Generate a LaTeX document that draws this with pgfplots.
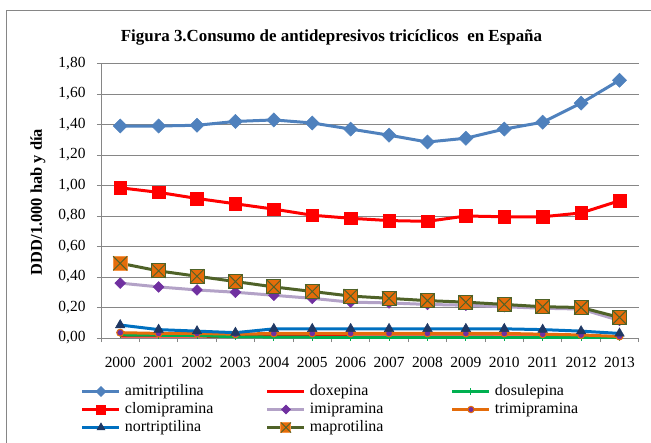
\documentclass[border=0pt]{standalone}
\usepackage{pgfplots}
\pgfplotsset{compat=1.18}
\usepackage{fontspec}
\setmainfont{Liberation Serif}

\definecolor{amiBlue}{HTML}{4F81BD}
\definecolor{doxRed}{HTML}{FF0000}
\definecolor{dosGreen}{HTML}{00B050}
\definecolor{impLine}{HTML}{B3A2C7}
\definecolor{impMark}{HTML}{7030A0}
\definecolor{triOrange}{HTML}{E46C0A}
\definecolor{norBlue}{HTML}{0070C0}
\definecolor{norMark}{HTML}{1F3864}
\definecolor{mapOlive}{HTML}{4F6228}
\definecolor{mapFill}{HTML}{E46C0A}
\definecolor{mapEdge}{HTML}{F79646}
\definecolor{frameGray}{HTML}{868686}

% square with a cross, as in the maprotilina series
\pgfdeclareplotmark{sqx}{%
  \pgfpathrectangle{\pgfpoint{-\pgfplotmarksize}{-\pgfplotmarksize}}{\pgfpoint{2\pgfplotmarksize}{2\pgfplotmarksize}}%
  \pgfusepathqfillstroke
  \pgfsetstrokecolor{mapOlive}%
  \pgfpathmoveto{\pgfpoint{-\pgfplotmarksize}{-\pgfplotmarksize}}%
  \pgfpathlineto{\pgfpoint{\pgfplotmarksize}{\pgfplotmarksize}}%
  \pgfpathmoveto{\pgfpoint{-\pgfplotmarksize}{\pgfplotmarksize}}%
  \pgfpathlineto{\pgfpoint{\pgfplotmarksize}{-\pgfplotmarksize}}%
  \pgfusepathqstroke
}

\pgfplotsset{
  ami/.style={amiBlue, line width=3bp, mark=square*, mark options={rotate=45, solid, line width=0.5bp}},
  dox/.style={doxRed, line width=3bp, no marks},
  dos/.style={dosGreen, line width=3bp, mark=+, mark options={line width=1bp}},
  clo/.style={doxRed, line width=3bp, mark=square*, mark options={line width=0.5bp}},
  imi/.style={impLine, line width=3bp, mark=square*, mark options={rotate=45, fill=impMark, draw=impMark, line width=0.5bp}},
  tri/.style={triOrange, line width=3bp, mark=*, mark options={fill=impMark, draw=triOrange, line width=1bp}},
  nor/.style={norBlue, line width=3bp, mark=triangle*, mark options={fill=norMark, draw=norMark, line width=0.5bp}},
  map/.style={mapOlive, line width=3bp, mark=sqx, mark options={fill=mapFill, draw=mapEdge, line width=1bp}},
}

\begin{document}
\begin{tikzpicture}
\useasboundingbox (-101bp,-105bp) rectangle (550bp,338bp);
\draw[frameGray, line width=0.9bp] (-95bp,-110bp) -- (-95bp,328bp) -- (560bp,328bp);
\node[font=\bfseries\fontsize{17}{19}\selectfont, anchor=base] at (230.5bp,296bp) {Figura 3.Consumo de antidepresivos tricíclicos\ \ en España};
\node[font=\bfseries\fontsize{16.5}{18}\selectfont, rotate=90] at (-63bp,136bp) {DDD/1.000 hab y día};
\begin{axis}[
    at={(0,0)}, anchor=south west,
    scale only axis,
    width=537.7bp, height=274.5bp,
    xmin=-0.5, xmax=13.5,
    ymin=0, ymax=1.8,
    axis x line=bottom, axis y line=left,
    axis line style={-, frameGray, line width=0.9bp},
    ytick={0,0.2,...,1.8},
    ymajorgrids,
    grid style={frameGray, line width=0.9bp},
    tick align=outside,
    major tick length=4bp,
    tick style={frameGray, line width=0.9bp},
    xtick={0,...,13},
    xticklabels={2000,2001,2002,2003,2004,2005,2006,2007,2008,2009,2010,2011,2012,2013},
    xtick style={draw=none},
    extra x ticks={-0.5,0.5,...,13.5},
    extra x tick labels={},
    extra x tick style={xtick style={draw=frameGray}},
    xticklabel style={yshift=-12bp},
    yticklabel style={xshift=-8bp, /pgf/number format/.cd, fixed, fixed zerofill, precision=2, use comma},
    /pgf/number format/assume math mode=true,
    ticklabel style={font=\fontsize{15.5}{17}\selectfont},
    legend columns=3,
    legend style={at={(-20bp,-46bp)}, anchor=north west, draw=none,
      inner sep=0pt, outer sep=0pt,
      font=\fontsize{16}{17}\selectfont,
      nodes={text width=141bp, anchor=west, inner sep=0pt, text height=11bp, text depth=4bp},
      /tikz/every odd column/.style={column sep=4bp},
      row sep=3bp},
    legend cell align=left,
    legend image code/.code={%
      \draw[mark repeat=2, mark phase=2] plot coordinates {(0bp,0bp) (18.5bp,0bp) (37bp,0bp)};},
]
\addplot[ami, mark size=5bp, forget plot] coordinates {
 (0,1.39) (1,1.39) (2,1.395) (3,1.42) (4,1.43) (5,1.41) (6,1.37) (7,1.33) (8,1.285) (9,1.31) (10,1.37) (11,1.415) (12,1.54) (13,1.69)};
\addplot[dox, forget plot] coordinates {
 (0,0.012) (1,0.012) (2,0.012) (3,0.010) (4,0.010) (5,0.010) (6,0.008) (7,0.008) (8,0.008) (9,0.008) (10,0.007) (11,0.007) (12,0.006) (13,0.005)};
\addplot[dos, mark size=3.5bp, forget plot] coordinates {
 (0,0.020) (1,0.018) (2,0.016) (3,0.008) (4,0.006) (5,0.005) (6,0.004) (7,0.004) (8,0.004) (9,0.004) (10,0.003) (11,0.003) (12,0.003) (13,0.003)};
\addplot[clo, mark size=6.3bp, forget plot] coordinates {
 (0,0.985) (1,0.955) (2,0.915) (3,0.88) (4,0.845) (5,0.805) (6,0.785) (7,0.77) (8,0.765) (9,0.80) (10,0.795) (11,0.795) (12,0.82) (13,0.90)};
\addplot[imi, mark size=3.8bp, forget plot] coordinates {
 (0,0.36) (1,0.335) (2,0.315) (3,0.30) (4,0.28) (5,0.26) (6,0.235) (7,0.23) (8,0.22) (9,0.215) (10,0.205) (11,0.195) (12,0.19) (13,0.115)};
\addplot[tri, mark size=3.5bp, forget plot] coordinates {
 (0,0.035) (1,0.03) (2,0.03) (3,0.025) (4,0.03) (5,0.03) (6,0.03) (7,0.03) (8,0.03) (9,0.03) (10,0.03) (11,0.025) (12,0.02) (13,0.01)};
\addplot[nor, mark size=5.5bp, forget plot] coordinates {
 (0,0.085) (1,0.055) (2,0.045) (3,0.035) (4,0.06) (5,0.06) (6,0.06) (7,0.06) (8,0.06) (9,0.06) (10,0.06) (11,0.055) (12,0.045) (13,0.03)};
\addplot[map, mark size=7bp, forget plot] coordinates {
 (0,0.49) (1,0.44) (2,0.405) (3,0.37) (4,0.335) (5,0.305) (6,0.275) (7,0.26) (8,0.245) (9,0.235) (10,0.22) (11,0.205) (12,0.20) (13,0.135)};
% legend images with smaller marks, as in the original
\addlegendimage{ami, mark size=3.6bp}
\addlegendimage{dox}
\addlegendimage{dos, mark size=3.2bp}
\addlegendimage{clo, mark size=4.6bp}
\addlegendimage{imi, mark size=3.2bp}
\addlegendimage{tri, mark size=3.2bp}
\addlegendimage{nor, mark size=4.6bp}
\addlegendimage{map, mark size=5bp}
\legend{amitriptilina,doxepina,dosulepina,clomipramina,imipramina,trimipramina,nortriptilina,maprotilina}
\end{axis}
\end{tikzpicture}
\end{document}
